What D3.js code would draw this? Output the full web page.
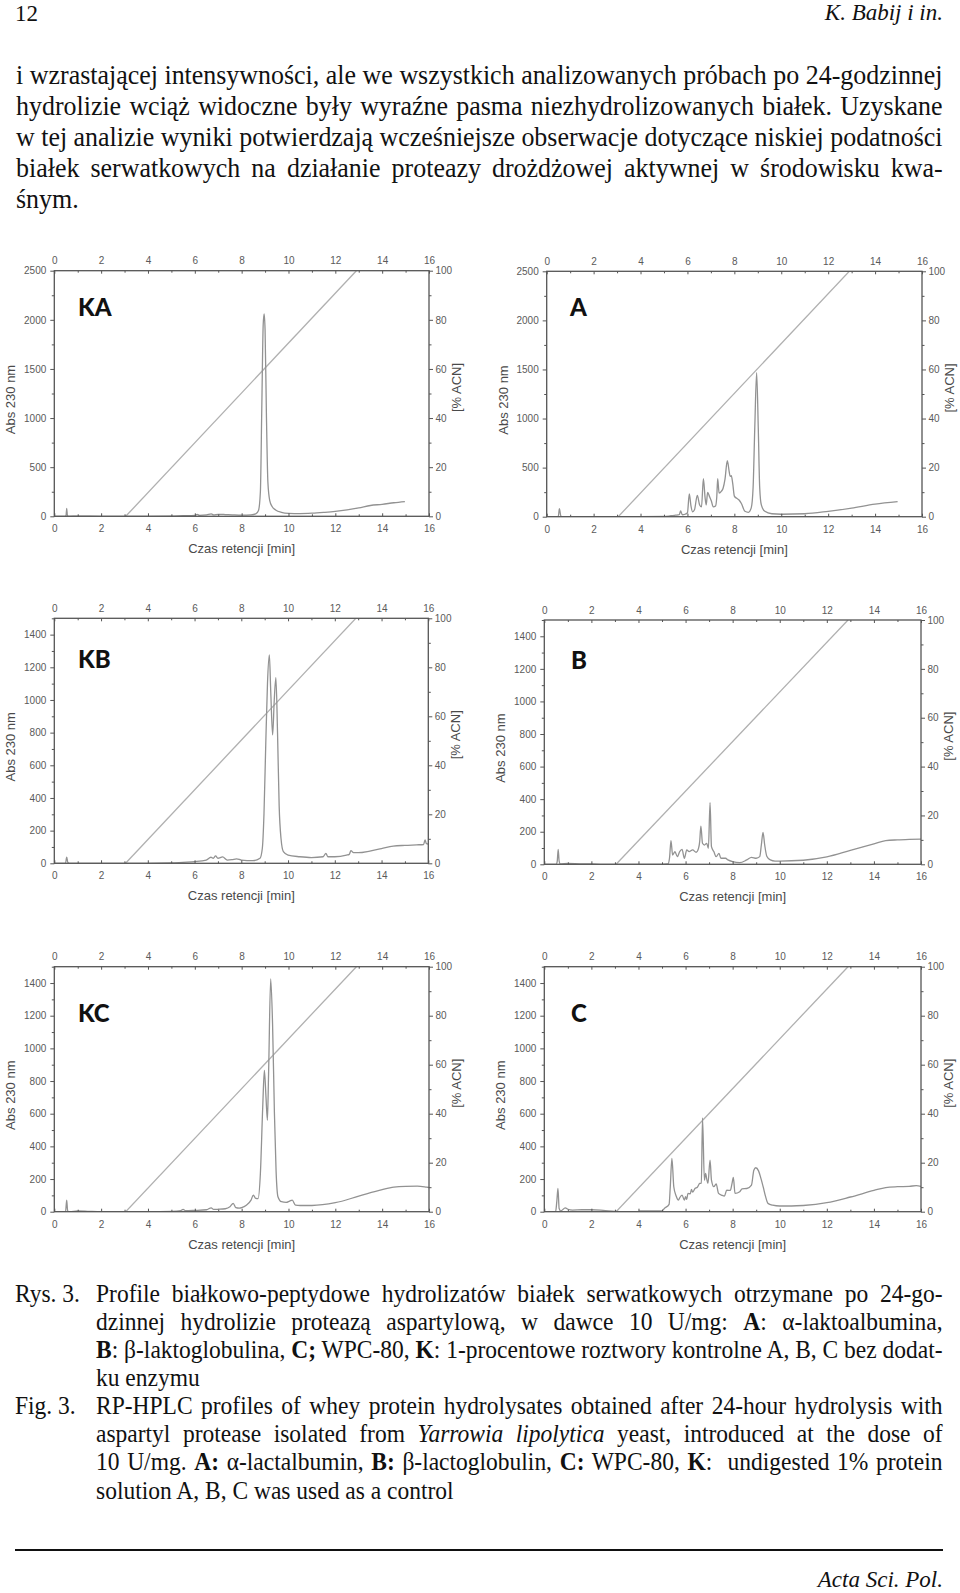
<!DOCTYPE html>
<html>
<head>
<meta charset="utf-8">
<script src="https://cdn.jsdelivr.net/npm/d3@7"></script>
<style>
  html, body { margin: 0; padding: 0; background: #fff; }
  svg { display: block; }
</style>
</head>
<body>
<svg id="page" width="960" height="1593"></svg>
<script>
// ---------------- DATA ----------------
const xTicks = [0, 2, 4, 6, 8, 10, 12, 14, 16];
const xMinorTicks = [1, 3, 5, 7, 9, 11, 13, 15];
const acnTicks = [0, 20, 40, 60, 80, 100];
const acnMinorTicks = [10, 30, 50, 70, 90];
const absTicks2500 = [0, 500, 1000, 1500, 2000, 2500];
const absMinor2500 = [250, 750, 1250, 1750, 2250];
const absTicks1500 = [0, 200, 400, 600, 800, 1000, 1200, 1400];
const absMinor1500 = [100, 300, 500, 700, 900, 1100, 1300, 1500];

// ACN gradient [time, %ACN]
const gradient = [[3.05, 0], [12.9, 100]];

// chromatograms [time min, Abs 230 nm]
const traceKA = [[0,0],[0.45,0],[0.5,5],[0.53,80],[0.56,5],[0.62,0],[1,2],[2,0],[3,0],[4,0],[5,2],[5.5,6],[6,10],[6.1,20],[6.2,10],[6.5,14],[6.7,25],[6.8,14],[7,20],[7.3,18],[7.6,15],[8,12],[8.4,15],[8.6,25],[8.72,60],[8.8,250],[8.86,1100],[8.92,1950],[8.96,2060],[9.0,1900],[9.06,1000],[9.12,350],[9.2,160],[9.3,100],[9.45,65],[9.7,40],[10,30],[10.5,28],[11,32],[11.5,40],[12,50],[12.5,65],[13,85],[13.5,110],[14,122],[14.5,138],[14.97,150]];

const traceA = [[0,0],[0.45,0],[0.5,8],[0.54,82],[0.6,10],[0.65,0],[1,0],[2,0],[3,0],[4,0],[5,2],[5.3,10],[5.5,15],[5.65,20],[5.71,58],[5.78,20],[5.9,25],[6.0,40],[6.08,231],[6.15,110],[6.22,50],[6.3,70],[6.42,217],[6.52,120],[6.6,100],[6.68,387],[6.75,200],[6.8,120],[6.86,248],[6.95,200],[7.02,160],[7.1,100],[7.2,110],[7.25,200],[7.29,387],[7.35,240],[7.45,260],[7.52,290],[7.6,380],[7.7,570],[7.78,460],[7.82,410],[7.87,418],[7.93,340],[8.0,210],[8.1,187],[8.2,170],[8.3,135],[8.45,55],[8.6,45],[8.72,90],[8.8,300],[8.87,900],[8.95,1467],[9.02,900],[9.08,300],[9.15,120],[9.3,55],[9.6,30],[10,25],[11,30],[12,55],[13,88],[14,128],[14.96,153]];

const traceKB = [[0,0],[0.48,0],[0.53,37],[0.58,5],[0.65,0],[1,0],[2,0],[3,0],[4,0],[5,2],[5.5,6],[6,10],[6.5,20],[6.7,37],[6.8,31],[6.9,45],[7,31],[7.2,39],[7.4,20],[7.6,22],[7.8,27],[8,20],[8.5,16],[8.8,31],[8.9,92],[8.97,300],[9.05,750],[9.12,1100],[9.2,1276],[9.26,1050],[9.34,786],[9.41,1000],[9.48,1137],[9.55,800],[9.62,350],[9.7,150],[9.8,71],[10,50],[10.5,40],[11,35],[11.5,40],[11.62,61],[11.7,40],[12,40],[12.5,50],[12.62,55],[12.69,78],[12.8,65],[13,65],[13.5,75],[14,90],[14.5,105],[15,110],[15.5,113],[15.8,115],[15.86,143],[15.92,120],[16,118]];

const traceB = [[0,0],[0.5,0],[0.55,20],[0.59,92],[0.63,20],[0.68,2],[1,5],[1.5,3],[2,2],[2.5,0],[3,0],[4,0],[5,0],[5.25,2],[5.32,40],[5.38,145],[5.45,57],[5.55,78],[5.65,47],[5.75,78],[5.85,92],[5.95,37],[6.05,88],[6.15,78],[6.3,88],[6.45,74],[6.55,98],[6.6,139],[6.65,235],[6.72,129],[6.8,118],[6.9,129],[6.97,98],[7.04,378],[7.1,108],[7.2,78],[7.3,47],[7.42,67],[7.5,37],[7.7,37],[7.8,27],[8,16],[8.3,10],[8.6,27],[8.8,43],[9.0,37],[9.15,47],[9.22,120],[9.29,196],[9.36,120],[9.45,50],[9.6,27],[9.8,20],[10,20],[11,25],[12,45],[13,85],[14,125],[14.5,145],[15,150],[15.5,153],[16,155]];

const traceKC = [[0,0],[0.48,0],[0.53,71],[0.57,5],[0.65,0],[1,5],[1.5,2],[2,0],[3,0],[4,0],[5,2],[5.4,6],[5.5,14],[5.6,6],[6,8],[6.5,12],[6.7,24],[6.8,14],[7,15],[7.3,18],[7.5,30],[7.64,51],[7.75,25],[7.9,22],[8,25],[8.2,40],[8.4,71],[8.5,102],[8.6,81],[8.7,80],[8.8,234],[8.9,641],[8.97,865],[9.04,700],[9.1,560],[9.15,845],[9.24,1425],[9.32,1150],[9.4,600],[9.47,250],[9.55,92],[9.7,61],[9.9,57],[10.05,65],[10.16,71],[10.3,40],[10.5,38],[11,38],[12,55],[13,95],[14,135],[14.5,150],[15,155],[15.5,156],[15.9,150],[16,148]];

const traceC = [[0,0],[0.48,0],[0.53,60],[0.58,142],[0.63,20],[0.7,5],[0.89,24],[1,15],[1.2,10],[1.6,12],[2,12],[2.5,8],[3,2],[3.3,0],[4,0],[4.05,5],[5,5],[5.1,20],[5.3,45],[5.35,150],[5.42,326],[5.5,153],[5.6,96],[5.7,71],[5.75,85],[5.85,102],[5.95,71],[6.0,92],[6.05,75],[6.1,112],[6.2,110],[6.25,136],[6.3,120],[6.4,142],[6.5,150],[6.6,173],[6.67,175],[6.72,574],[6.8,193],[6.85,234],[6.9,200],[6.95,173],[7.04,315],[7.1,193],[7.2,153],[7.3,170],[7.4,112],[7.55,100],[7.65,96],[7.75,132],[7.9,130],[7.97,170],[8.03,210],[8.1,112],[8.3,122],[8.4,140],[8.6,142],[8.8,163],[8.9,254],[8.98,269],[9.1,250],[9.2,204],[9.3,150],[9.4,92],[9.5,51],[9.7,40],[10,35],[10.5,35],[11,38],[12,55],[13,90],[14,130],[14.5,148],[15,153],[15.5,155],[15.8,160],[16,155]];

const panelNames = ["KA", "A", "KB", "B", "KC", "C"];
const panelTraces = [traceKA, traceA, traceKB, traceB, traceKC, traceC];
const panelAbsMax = [2500, 2500, 1500, 1500, 1500, 1500];

const xTitle = "Czas retencji [min]";
const yTitle = "Abs 230 nm";
const y2Title = "[% ACN]";

const headerLeft = "12";
const headerRight = "K. Babij i in.";
const bodyLines = [
  "i wzrastającej intensywności, ale we wszystkich analizowanych próbach po 24-godzinnej",
  "hydrolizie wciąż widoczne były wyraźne pasma niezhydrolizowanych białek. Uzyskane",
  "w tej analizie wyniki potwierdzają wcześniejsze obserwacje dotyczące niskiej podatności",
  "białek serwatkowych na działanie proteazy drożdżowej aktywnej w środowisku kwa-",
  "śnym."
];
// caption segments: [text, style] (b = bold, i = italic)
const captionLabels = ["Rys. 3.", "Fig. 3."];
const captionLines = [
  [["Profile białkowo-peptydowe hydrolizatów białek serwatkowych otrzymane po 24-go-", ""]],
  [["dzinnej hydrolizie proteazą aspartylową, w dawce 10 U/mg: ", ""], ["A", "b"], [": α-laktoalbumina,", ""]],
  [["B", "b"], [": β-laktoglobulina, ", ""], ["C;", "b"], [" WPC-80, ", ""], ["K", "b"], [": 1-procentowe roztwory kontrolne A, B, C bez dodat-", ""]],
  [["ku enzymu", ""]],
  [["RP-HPLC profiles of whey protein hydrolysates obtained after 24-hour hydrolysis with", ""]],
  [["aspartyl protease isolated from ", ""], ["Yarrowia lipolytica", "i"], [" yeast, introduced at the dose of", ""]],
  [["10 U/mg. ", ""], ["A:", "b"], [" α-lactalbumin, ", ""], ["B:", "b"], [" β-lactoglobulin, ", ""], ["C:", "b"], [" WPC-80, ", ""], ["K", "b"], [":  undigested 1% protein", ""]],
  [["solution A, B, C was used as a control", ""]]
];
const captionJustify = [true, true, true, false, true, true, true, false];
const footerRight = "Acta Sci. Pol.";

// ---------------- LAYOUT ----------------
const layout = [
  {L: 54.3, R: 429, T: 270.7, B: 516.3, tx: 78, ty: 316},
  {L: 546.7, R: 922, T: 271.3, B: 516.7, tx: 570, ty: 316},
  {L: 54.3, R: 428.3, T: 618.3, B: 863.3, tx: 78, ty: 668},
  {L: 544.3, R: 921, T: 620, B: 864.3, tx: 571, ty: 669},
  {L: 54.3, R: 429, T: 966.7, B: 1211.7, tx: 78, ty: 1022},
  {L: 544.3, R: 921, T: 966.7, B: 1211.7, tx: 571, ty: 1022}
];

const svg = d3.select("#page");
const serif = "'Liberation Serif', 'Times New Roman', serif";
const sans = "'Liberation Sans', Arial, sans-serif";
const axisColor = "#555";
const labelColor = "#5a5a5a";

// ---------------- TEXT BLOCKS (condensed Times, justified) ----------------
function textBlock(lines, size) {
  const made = lines.map(l => {
    const t = svg.append("text")
      .attr("x", 0).attr("y", 0)
      .attr("font-family", serif).attr("font-size", size)
      .attr("fill", "#111")
      .style("white-space", "pre");
    l.segs.forEach(s => {
      t.append("tspan").text(s[0])
        .attr("font-weight", s[1] === "b" ? "bold" : null)
        .attr("font-style", s[1] === "i" ? "italic" : null);
    });
    return {t, l, nat: t.node().getComputedTextLength()};
  });
  let sx = 1;
  made.forEach(m => { if (m.l.target) sx = Math.min(sx, m.l.target / m.nat); });
  made.forEach(m => {
    m.t.attr("transform", `translate(${m.l.x},${m.l.y}) scale(${sx},1)`);
    if (m.l.target) {
      const full = m.l.segs.map(s => s[0]).join("");
      const spaces = (full.match(/ /g) || []).length;
      const extra = m.l.target / sx - m.nat;
      if (spaces > 0 && extra > 0) m.t.attr("word-spacing", extra / spaces);
    }
  });
}

// header
svg.append("text").attr("x", 15).attr("y", 21).attr("font-family", serif)
  .attr("font-size", 23).attr("fill", "#111").text(headerLeft);
svg.append("text").attr("x", 943).attr("y", 20).attr("font-family", serif)
  .attr("font-size", 23).attr("font-style", "italic").attr("text-anchor", "end")
  .attr("fill", "#111").text(headerRight);

// body paragraph
const bodyBase = [84, 115, 146, 177, 208];
textBlock(bodyLines.map((ln, i) => ({
  x: 16, y: bodyBase[i], segs: [[ln, ""]], target: i < bodyLines.length - 1 ? 927 : null
})), 27.5);

// caption
const capBase = [1301.5, 1329.5, 1357.5, 1385.5, 1413.5, 1441.5, 1470, 1498.5];
const capLines = [
  {x: 15, y: capBase[0], segs: [[captionLabels[0], ""]], target: null},
  {x: 15, y: capBase[4], segs: [[captionLabels[1], ""]], target: null}
];
captionLines.forEach((segs, i) => {
  capLines.push({x: 96, y: capBase[i], segs, target: captionJustify[i] ? 943 - 96 : null});
});
textBlock(capLines, 25);

// footer
svg.append("line").attr("x1", 15).attr("x2", 943).attr("y1", 1550).attr("y2", 1550)
  .attr("stroke", "#111").attr("stroke-width", 2);
svg.append("text").attr("x", 943).attr("y", 1587).attr("font-family", serif)
  .attr("font-size", 23).attr("font-style", "italic").attr("text-anchor", "end")
  .attr("fill", "#111").text(footerRight);

// ---------------- PANELS ----------------
function styleAxis(g) {
  g.select(".domain").remove();
  g.selectAll(".tick line").attr("stroke", axisColor).attr("stroke-width", 1);
  g.selectAll(".tick text").attr("fill", labelColor)
    .attr("font-family", sans).attr("font-size", 10);
}

panelNames.forEach((name, i) => {
  const lay = layout[i];
  const absMax = panelAbsMax[i];
  const data = panelTraces[i];
  const g = svg.append("g");

  const x = d3.scaleLinear().domain([0, 16]).range([lay.L, lay.R]);
  const y = d3.scaleLinear().domain([0, absMax]).range([lay.B, lay.T]);
  const y2 = d3.scaleLinear().domain([0, 100]).range([lay.B, lay.T]);

  const major = absMax === 2500 ? absTicks2500 : absTicks1500;
  const minor = absMax === 2500 ? absMinor2500 : absMinor1500;

  const clipId = "clip" + i;
  svg.append("clipPath").attr("id", clipId).append("rect")
    .attr("x", lay.L).attr("y", lay.T).attr("width", lay.R - lay.L).attr("height", lay.B - lay.T);

  // gradient line
  g.append("path").datum(gradient)
    .attr("d", d3.line().x(d => x(d[0])).y(d => y2(d[1])))
    .attr("fill", "none").attr("stroke", "#b0b0b0").attr("stroke-width", 1.3)
    .attr("clip-path", `url(#${clipId})`);

  // chromatogram
  g.append("path").datum(data)
    .attr("d", d3.line().x(d => x(d[0])).y(d => y(d[1])).curve(d3.curveMonotoneX))
    .attr("fill", "none").attr("stroke", "#929292").attr("stroke-width", 1.3)
    .attr("stroke-linejoin", "round")
    .attr("clip-path", `url(#${clipId})`);

  // axes: bottom
  g.append("g").attr("transform", `translate(0,${lay.B})`)
    .call(d3.axisBottom(x).tickValues(xTicks).tickSize(-3).tickPadding(9).tickFormat(d3.format("d")))
    .call(styleAxis);
  g.append("g").attr("transform", `translate(0,${lay.B})`)
    .call(d3.axisBottom(x).tickValues(xMinorTicks).tickSize(-2).tickFormat(() => ""))
    .call(styleAxis);
  // top
  g.append("g").attr("transform", `translate(0,${lay.T})`)
    .call(d3.axisTop(x).tickValues(xTicks).tickSize(-3).tickPadding(6.5).tickFormat(d3.format("d")))
    .call(styleAxis);
  g.append("g").attr("transform", `translate(0,${lay.T})`)
    .call(d3.axisTop(x).tickValues(xMinorTicks).tickSize(-2).tickFormat(() => ""))
    .call(styleAxis);
  // left
  g.append("g").attr("transform", `translate(${lay.L},0)`)
    .call(d3.axisLeft(y).tickValues(major).tickSize(4).tickPadding(4).tickFormat(d3.format("d")))
    .call(styleAxis);
  g.append("g").attr("transform", `translate(${lay.L},0)`)
    .call(d3.axisLeft(y).tickValues(minor).tickSize(2.5).tickFormat(() => ""))
    .call(styleAxis);
  // right
  g.append("g").attr("transform", `translate(${lay.R},0)`)
    .call(d3.axisRight(y2).tickValues(acnTicks).tickSize(4).tickPadding(2.5).tickFormat(d3.format("d")))
    .call(styleAxis);
  g.append("g").attr("transform", `translate(${lay.R},0)`)
    .call(d3.axisRight(y2).tickValues(acnMinorTicks).tickSize(2.5).tickFormat(() => ""))
    .call(styleAxis);

  // frame
  g.append("rect").attr("x", lay.L).attr("y", lay.T)
    .attr("width", lay.R - lay.L).attr("height", lay.B - lay.T)
    .attr("fill", "none").attr("stroke", axisColor).attr("stroke-width", 1.3);

  // titles
  g.append("text").attr("x", (lay.L + lay.R) / 2).attr("y", lay.B + 37)
    .attr("text-anchor", "middle").attr("font-family", sans).attr("font-size", 13)
    .attr("fill", "#4a4a4a").text(xTitle);
  const my = (lay.T + lay.B) / 2 + 6;
  g.append("text").attr("transform", `translate(${lay.L - 39},${my}) rotate(-90)`)
    .attr("text-anchor", "middle").attr("font-family", sans).attr("font-size", 13)
    .attr("fill", "#4a4a4a").text(yTitle);
  g.append("text").attr("transform", `translate(${lay.R + 32},${(lay.T + lay.B) / 2 - 6}) rotate(-90)`)
    .attr("text-anchor", "middle").attr("font-family", sans).attr("font-size", 13)
    .attr("fill", "#4a4a4a").text(y2Title);

  // panel label
  g.append("text").attr("x", lay.tx).attr("y", lay.ty)
    .attr("font-family", "Lato, 'DejaVu Sans', sans-serif").attr("font-weight", 900)
    .attr("font-size", 24).attr("fill", "#111").text(name);
});
</script>
</body>
</html>
